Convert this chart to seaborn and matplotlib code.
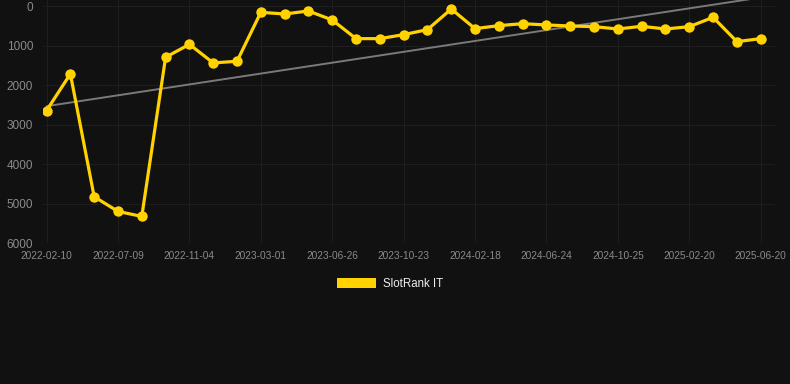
import numpy as np
import pandas as pd
import matplotlib
matplotlib.use("Agg")
import matplotlib.pyplot as plt
from matplotlib.patches import Patch
import seaborn as sns

# ---- data ----
tick_labels = ["2022-02-10", "2022-07-09", "2022-11-04", "2023-03-01", "2023-06-26",
               "2023-10-23", "2024-02-18", "2024-06-24", "2024-10-25", "2025-02-20",
               "2025-06-20"]
rank_values = [2647, 1719, 4829, 5200, 5327, 1298, 970, 1441, 1399, 160,
               202, 126, 354, 826, 826, 725, 598, 76, 573, 497,
               447, 480, 506, 523, 582, 514, 582, 523, 287, 902, 826]
series_name = "SlotRank IT"
y_ticks = [0, 1000, 2000, 3000, 4000, 5000, 6000]

idx = np.arange(len(rank_values))
df = pd.DataFrame({"idx": idx, "rank": rank_values})

sns.set_theme(style="dark")
plt.rcParams["font.family"] = ["Liberation Sans", "DejaVu Sans"]

BG = "#111111"
fig = plt.figure(figsize=(7.9, 3.84), dpi=100, facecolor=BG)
ax = fig.add_axes([43 / 790, 1 - 243 / 384, 732 / 790, 243 / 384])
ax.set_facecolor(BG)

# trend line (linear regression of the series)
coef = np.polyfit(idx, rank_values, 1)
trend = np.polyval(coef, idx)
ax.plot(idx, trend, color="#7a7a7a", linewidth=1.4, zorder=2)

sns.lineplot(data=df, x="idx", y="rank", ax=ax, color="#FFD200", linewidth=2.3,
             marker="o", markersize=7.5, markeredgewidth=0, zorder=3)

ax.set_ylim(6000, -152)
ax.set_xlim(-0.15, 30.6)
ax.set_yticks(y_ticks)
ax.set_yticklabels([str(v) for v in y_ticks])
ax.set_xticks(idx[::3])
ax.set_xticklabels(tick_labels)
ax.tick_params(axis="y", colors="#8a8a8a", labelsize=8.5, length=0, pad=7)
ax.tick_params(axis="x", colors="#8a8a8a", labelsize=7.3, length=0, pad=6)
ax.grid(True, color="#1e1e1e", linewidth=0.8)
for s in ax.spines.values():
    s.set_visible(False)
ax.set_xlabel("")
ax.set_ylabel("")

handle = Patch(facecolor="#FFD200", edgecolor="none")
fig.legend([handle], [series_name], loc="center", bbox_to_anchor=(390 / 790, 1 - 284 / 384),
           frameon=False, fontsize=8.3, labelcolor="#eeeeee", handlelength=3.4,
           handleheight=1.0, handletextpad=0.55)

fig.savefig("out.png", dpi=100, facecolor=BG)
